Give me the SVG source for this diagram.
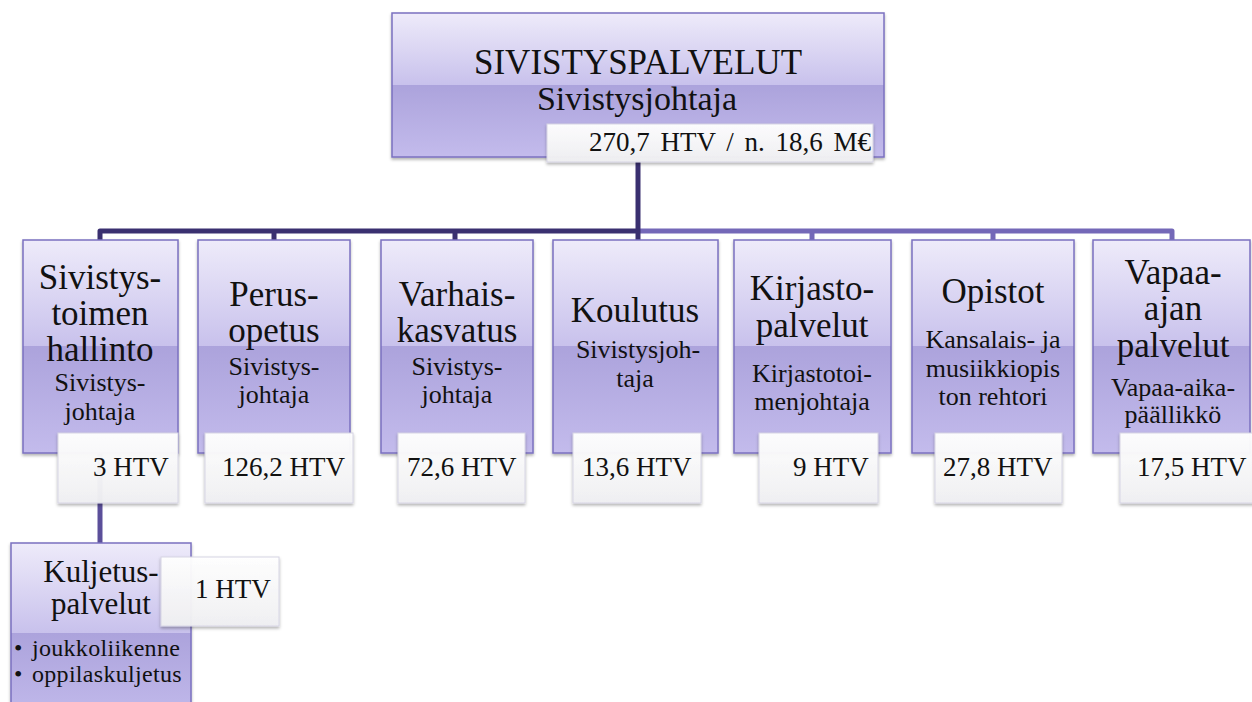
<svg xmlns="http://www.w3.org/2000/svg" width="1252" height="702" viewBox="0 0 1252 702">
<defs>
<linearGradient id="boxGrad" x1="0" y1="0" x2="0" y2="1">
<stop offset="0" stop-color="#eeebfa"/>
<stop offset="0.5" stop-color="#c8c1ec"/>
<stop offset="0.5" stop-color="#aca3dc"/>
<stop offset="1" stop-color="#c3bbec"/>
</linearGradient>
<linearGradient id="lblGrad" x1="0" y1="0" x2="0" y2="1">
<stop offset="0" stop-color="#ffffff"/>
<stop offset="1" stop-color="#f0f0f2"/>
</linearGradient>
<filter id="shadow" x="-10%" y="-10%" width="120%" height="125%">
<feDropShadow dx="0" dy="2" stdDeviation="1.5" flood-color="#000" flood-opacity="0.3"/>
</filter>
</defs>
<style>
.box{fill:url(#boxGrad);stroke:#7b70c0;stroke-width:1.5;filter:url(#shadow)}
.lbl{fill:url(#lblGrad);fill-opacity:0.96;stroke:#d6d4e4;stroke-width:1;filter:url(#shadow)}
text{font-family:"Liberation Serif","Times New Roman",serif;fill:#111}
.t{font-size:35px;text-anchor:middle}
.s{font-size:26px;text-anchor:middle}
.n{font-size:27px}
.dark{stroke:#3a3070;stroke-width:5;fill:none;stroke-linejoin:round}
.light{stroke:#7468b8;stroke-width:5;fill:none;stroke-linejoin:round}
.mid{stroke:#5b4f9a;stroke-width:5;fill:none}
</style>
<rect width="1252" height="702" fill="#ffffff"/>
<g id="connectors">
<path class="light" d="M638,231 H1172 V241"/>
<path class="light" d="M812,231 V241 M993,231 V241"/>
<path class="dark" d="M100,241 V231 H638"/>
<path class="dark" d="M638,160 V241 M274,231 V241 M455,231 V241"/>
<path class="mid" d="M100,453 V544"/>
</g>
<g id="sivistyspalvelut">
<rect class="box" x="392" y="13" width="492" height="144"/>
<text x="638" y="74" style="font-size:35px;text-anchor:middle">SIVISTYSPALVELUT</text>
<text x="637" y="110" style="font-size:34px;text-anchor:middle">Sivistysjohtaja</text>
<rect class="lbl" x="547" y="124" width="326" height="38"/>
<text x="589" y="151" style="font-size:27px;word-spacing:4px">270,7 HTV / n. 18,6 M€</text>
</g>
<g id="hallinto">
<rect class="box" x="23" y="240" width="155" height="213"/>
<text class="t" x="100" y="289">Sivistys-</text>
<text class="t" x="100" y="325">toimen</text>
<text class="t" x="100" y="361">hallinto</text>
<text class="s" x="100" y="391">Sivistys-</text>
<text class="s" x="100" y="420">johtaja</text>
<rect class="lbl" x="58" y="433" width="120" height="70"/>
<text class="n" x="93" y="476">3 HTV</text>
</g>
<g id="perusopetus">
<rect class="box" x="198" y="240" width="152" height="213"/>
<text class="t" x="274" y="306">Perus-</text>
<text class="t" x="274" y="342">opetus</text>
<text class="s" x="274" y="375">Sivistys-</text>
<text class="s" x="274" y="403">johtaja</text>
<rect class="lbl" x="205" y="433" width="148" height="70"/>
<text class="n" x="222" y="476">126,2 HTV</text>
</g>
<g id="varhaiskasvatus">
<rect class="box" x="381" y="240" width="152" height="213"/>
<text class="t" x="457" y="306">Varhais-</text>
<text class="t" x="457" y="342">kasvatus</text>
<text class="s" x="457" y="375">Sivistys-</text>
<text class="s" x="457" y="403">johtaja</text>
<rect class="lbl" x="398" y="433" width="127" height="70"/>
<text class="n" x="407" y="476">72,6 HTV</text>
</g>
<g id="koulutus">
<rect class="box" x="553" y="240" width="165" height="213"/>
<text class="t" x="635" y="322">Koulutus</text>
<text class="s" x="638" y="358">Sivistysjoh-</text>
<text class="s" x="635" y="387">taja</text>
<rect class="lbl" x="573" y="433" width="128" height="70"/>
<text class="n" x="582" y="476">13,6 HTV</text>
</g>
<g id="kirjastopalvelut">
<rect class="box" x="734" y="240" width="157" height="213"/>
<text class="t" x="812" y="300">Kirjasto-</text>
<text class="t" x="812" y="337">palvelut</text>
<text class="s" x="812" y="382">Kirjastotoi-</text>
<text class="s" x="812" y="410">menjohtaja</text>
<rect class="lbl" x="759" y="433" width="119" height="70"/>
<text class="n" x="793" y="476">9 HTV</text>
</g>
<g id="opistot">
<rect class="box" x="912" y="240" width="162" height="213"/>
<text class="t" x="993" y="303">Opistot</text>
<text class="s" x="993" y="348">Kansalais- ja</text>
<text class="s" x="993" y="377">musiikkiopis</text>
<text class="s" x="993" y="405">ton rehtori</text>
<rect class="lbl" x="935" y="433" width="127" height="70"/>
<text class="n" x="943" y="476">27,8 HTV</text>
</g>
<g id="vapaa-ajan">
<rect class="box" x="1093" y="240" width="157" height="213"/>
<text class="t" x="1173" y="284">Vapaa-</text>
<text class="t" x="1173" y="320">ajan</text>
<text class="t" x="1173" y="357">palvelut</text>
<text class="s" x="1173" y="396">Vapaa-aika-</text>
<text class="s" x="1173" y="423">päällikkö</text>
<rect class="lbl" x="1120" y="433" width="140" height="70"/>
<text class="n" x="1137" y="476">17,5 HTV</text>
</g>
<g id="kuljetuspalvelut">
<rect class="box" x="11" y="543" width="180" height="180"/>
<text x="101" y="582" style="font-size:31px;text-anchor:middle">Kuljetus-</text>
<text x="101" y="614" style="font-size:31px;text-anchor:middle">palvelut</text>
<text x="14" y="656" style="font-size:24px">•</text>
<text x="32" y="656" style="font-size:24px;letter-spacing:0.3px">joukkoliikenne</text>
<text x="14" y="682" style="font-size:24px">•</text>
<text x="32" y="682" style="font-size:24px;letter-spacing:0.3px">oppilaskuljetus</text>
<rect class="lbl" x="161" y="557" width="118" height="69"/>
<text class="n" x="195" y="598">1 HTV</text>
</g>
</svg>
